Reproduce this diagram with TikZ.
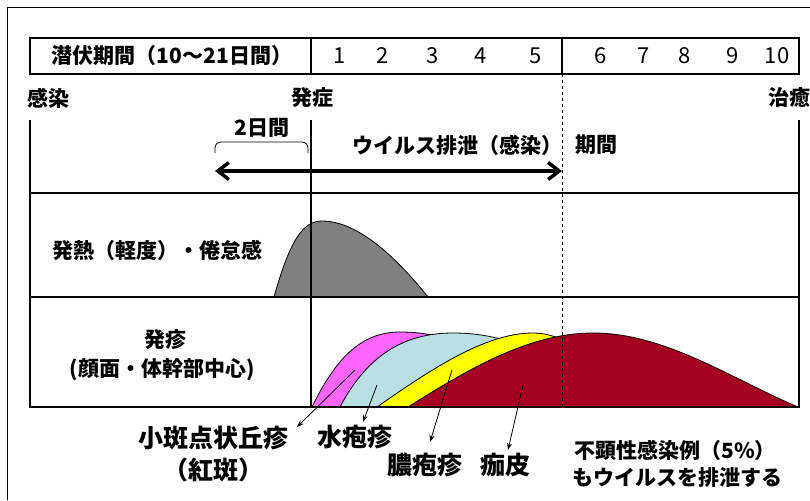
\documentclass[tikz,border=0pt]{standalone}
\usepackage{fontspec}
\setmainfont{Noto Sans CJK JP}
\usepackage{tikz}
\usetikzlibrary{positioning}
\usetikzlibrary{arrows.meta}

\definecolor{rashpink}{HTML}{FF66FF}
\definecolor{blisterblue}{HTML}{B8DFE3}
\definecolor{pustyellow}{HTML}{FFFF00}
\definecolor{crustred}{HTML}{A50021}
\tikzset{
	lbl/.style={font=\bfseries\fontsize{21}{24}\selectfont, inner sep=0pt},
	biglbl/.style={font=\bfseries\fontsize{25}{28}\selectfont, inner sep=0pt},
	daynum/.style={font=\fontsize{22}{24}\selectfont, inner sep=0pt},
	grid/.style={line width=1.2pt},
	hump/.style={draw=black, line width=0.8pt},
	ptr/.style={-{Stealth[length=7pt,width=5pt]}, line width=0.8pt},
	barb/.style={line width=3.5pt, {Straight Barb[length=11pt,width=17pt]}-{Straight Barb[length=11pt,width=17pt]}},
}

\begin{document}
\begin{tikzpicture}[x=1pt,y=-1pt]
	\useasboundingbox (0,0) rectangle (810,500);
	\draw[line width=1pt] (7,500) -- (7,8) -- (810,8);

	% curves
	\filldraw[hump, fill=gray] (274,297) .. controls (290,240) and (303,221) .. (322,221)
	  .. controls (360,221) and (400,262) .. (428,297) -- cycle;
	\filldraw[hump, fill=rashpink] (312,407) .. controls (335,360) and (360,332) .. (400,332)
	  .. controls (420,332) and (435,335) .. (450,340) -- (450,407) -- cycle;
	\filldraw[hump, fill=blisterblue] (340,407) .. controls (370,350) and (410,333) .. (453,333)
	  .. controls (480,333) and (500,338) .. (520,345) -- (520,407) -- cycle;
	\filldraw[hump, fill=pustyellow] (377,407) .. controls (430,370) and (485,333) .. (533,333)
	  .. controls (555,333) and (575,345) .. (600,360) -- (600,407) -- cycle;
	\filldraw[hump, fill=crustred] (408,407) .. controls (470,368) and (530,333) .. (593,333)
	  .. controls (665,333) and (730,378) .. (798,407) -- cycle;

	% header row
	\draw[grid] (30,38) rectangle (799,74);
	\draw[grid] (311,38) -- (311,74);
	\draw[grid] (562,38) -- (562,74);
	\node (incub) [lbl] at (172,56) {潜伏期間（10〜21日間）};
	\foreach \d/\x in {1/340,2/383,3/433,4/481,5/536,6/601,7/644,8/685,9/733,10/777}
	  \node (day\d) [daynum] at (\x,56) {\d};

	\node (infect) [lbl] at (48,98) {感染};
	\node (onset) [lbl] at (312,98) {発症};
	\node (cure) [lbl] at (789,98) {治癒};

	% table
	\draw[grid] (30,120) -- (30,407) -- (799,407) -- (799,120);
	\draw[grid] (30,193) -- (799,193);
	\draw[grid] (30,297) -- (799,297);
	\draw[grid] (311,120) -- (311,407);
	\draw[dashed, line width=0.8pt] (562,74) -- (562,407);

	% shedding period
	\node (twodays) [lbl] at (262,128) {2日間};
	\draw[rounded corners=6pt, line width=0.8pt] (215,153) -- (215,142) -- (308,142) -- (308,153);
	\coordinate (shedL) at (215,171);
	\coordinate (shedR) at (562,171);
	\draw[barb] (shedL) -- (shedR);
	\node (shed) [lbl] at (457,145) {ウイルス排泄（感染）};
	\node (period) [lbl] at (596,145) {期間};

	% row labels
	\node (fever) [lbl] at (157,250) {発熱（軽度）・倦怠感};
	\node (rash) [lbl] at (165,340) {発疹};
	\node (rashsub) [lbl] at (162,370) {(顔面・体幹部中心)};

	% stage labels
	\node (macule) [biglbl] at (213,438) {小斑点状丘疹};
	\node (erythema) [biglbl] at (213,470) {（紅斑）};
	\node (vesicle) [biglbl] at (355,437) {水疱疹};
	\node (pustule) [biglbl] at (425,465) {膿疱疹};
	\node (crust) [biglbl] at (505,465) {痂皮};
	\node (note1) [lbl] at (675,450) {不顕性感染例（5\%）};
	\node (note2) [lbl] at (677,478) {もウイルスを排泄する};

	\coordinate (inM) at (355,370);
	\coordinate (inB) at (377,385);
	\coordinate (inY) at (452,370);
	\coordinate (inR) at (523,385);
	\coordinate (toM) at (297,427);
	\coordinate (toB) at (363,422);
	\coordinate (toY) at (430,442);
	\coordinate (toR) at (508,450);
	\draw[ptr] (inM) -- (toM);
	\draw[ptr] (inB) -- (toB);
	\draw[ptr] (inY) -- (toY);
	\draw[ptr] (inR) -- (toR);
\end{tikzpicture}
\end{document}
